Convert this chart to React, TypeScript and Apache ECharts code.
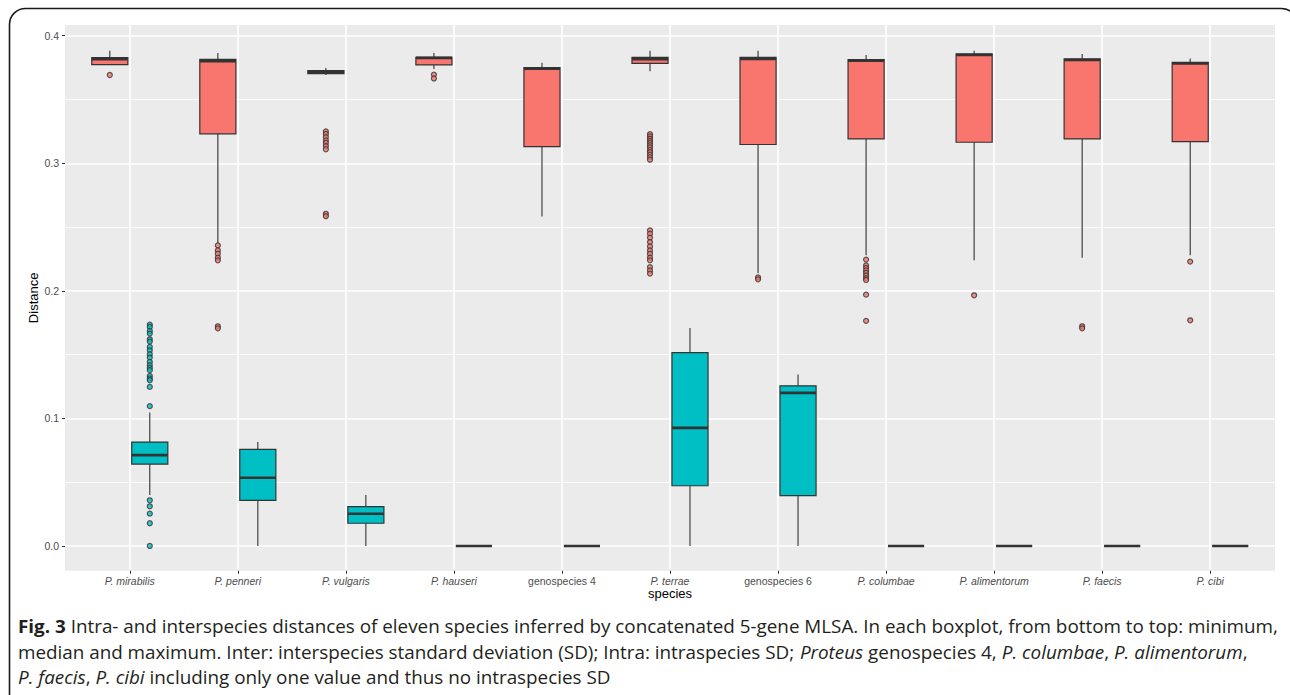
import React, { useEffect, useRef } from "react";
import * as echarts from "echarts";

const species = [
  "P. mirabilis",
  "P. penneri",
  "P. vulgaris",
  "P. hauseri",
  "genospecies 4",
  "P. terrae",
  "genospecies 6",
  "P. columbae",
  "P. alimentorum",
  "P. faecis",
  "P. cibi",
];

const yTicks = [0, 0.1, 0.2, 0.3, 0.4];

// Inter (interspecies) boxplots
const interMin = [0.377, 0.2375, 0.3692, 0.374, 0.2583, 0.3721, 0.2137, 0.2278, 0.2239, 0.226, 0.2278];
const interQ1 = [0.3773, 0.3231, 0.3703, 0.3771, 0.3131, 0.3783, 0.3147, 0.3191, 0.3165, 0.3191, 0.317];
const interMedian = [0.3816, 0.38, 0.3716, 0.3826, 0.3742, 0.3815, 0.3818, 0.3805, 0.3849, 0.381, 0.3782];
const interQ3 = [0.3828, 0.3815, 0.3726, 0.3831, 0.375, 0.383, 0.383, 0.3812, 0.3857, 0.3818, 0.3791];
const interMax = [0.3883, 0.3865, 0.3747, 0.3865, 0.3789, 0.3883, 0.3883, 0.3849, 0.3883, 0.3857, 0.3822];

// Intra (intraspecies) boxplots
const intraMin = [0.0399, 0, 0, 0, 0, 0, 0, 0, 0, 0, 0];
const intraQ1 = [0.0642, 0.0358, 0.0178, 0, 0, 0.0472, 0.0394, 0, 0, 0, 0];
const intraMedian = [0.0712, 0.0535, 0.0253, 0, 0, 0.0926, 0.12, 0, 0, 0, 0];
const intraQ3 = [0.0814, 0.0757, 0.0308, 0, 0, 0.1516, 0.1255, 0, 0, 0, 0];
const intraMax = [0.1046, 0.0814, 0.0399, 0, 0, 0.1709, 0.1344, 0, 0, 0, 0];

const interOutliers: number[][] = [
  [0.3692],
  [0.2356, 0.2317, 0.2291, 0.226, 0.2239, 0.1722, 0.1706],
  [0.325, 0.323, 0.3205, 0.318, 0.316, 0.3135, 0.311, 0.2604, 0.2585],
  [0.3695, 0.3665],
  [],
  [
    0.3228, 0.321, 0.3192, 0.3175, 0.316, 0.3142, 0.3125, 0.3105, 0.3088, 0.3068, 0.3048, 0.3028,
    0.2474, 0.2448, 0.2417, 0.2382, 0.2348, 0.2317, 0.2291, 0.226, 0.2239, 0.2186, 0.216, 0.2135,
  ],
  [0.2105, 0.209],
  [0.2245, 0.22, 0.218, 0.216, 0.214, 0.212, 0.21, 0.2085, 0.197, 0.1765],
  [0.1965],
  [0.1722, 0.1706],
  [0.2229, 0.1769],
];

const intraOutliers: number[][] = [
  [
    0.1735, 0.1717, 0.1685, 0.1665, 0.162, 0.1602, 0.156, 0.1534, 0.1503, 0.1477, 0.1443, 0.1417,
    0.1396, 0.1378, 0.1333, 0.1313, 0.1299, 0.1247, 0.1096, 0.0358, 0.0311, 0.0253, 0.0178, 0.0,
  ],
  [], [], [], [], [], [], [], [], [], [],
];

const INTER_COLOR = "#F8766D";
const INTRA_COLOR = "#00BFC4";
const DARK = "#333333";
const FONT = "'Liberation Sans', Arial, Helvetica, sans-serif";
const CAPTION_FONT = "'Open Sans', 'Noto Sans', sans-serif";

type Seg = { t: string; b?: boolean; i?: boolean };
const captionLines: Seg[][] = [
  [
    { t: "Fig. 3", b: true },
    { t: " Intra- and interspecies distances of eleven species inferred by concatenated 5-gene MLSA. In each boxplot, from bottom to top: minimum," },
  ],
  [
    { t: "median and maximum. Inter: interspecies standard deviation (SD); Intra: intraspecies SD; " },
    { t: "Proteus", i: true },
    { t: " genospecies 4, " },
    { t: "P. columbae", i: true },
    { t: ", " },
    { t: "P. alimentorum", i: true },
    { t: "," },
  ],
  [
    { t: "P. faecis", i: true },
    { t: ", " },
    { t: "P. cibi", i: true },
    { t: " including only one value and thus no intraspecies SD" },
  ],
];

const CAPTION_SIZE = 18.5;

function measureLine(segs: Seg[]): number {
  const ctx = document.createElement("canvas").getContext("2d");
  if (!ctx) return 1;
  let w = 0;
  for (const s of segs) {
    ctx.font = `${s.i ? "italic " : ""}${s.b ? "bold " : ""}${CAPTION_SIZE}px ${CAPTION_FONT}`;
    w += ctx.measureText(s.t).width;
  }
  return w;
}

function richText(segs: Seg[]): string {
  return segs.map((s) => `{${s.b ? "b" : s.i ? "i" : "n"}|${s.t}}`).join("");
}

const boxRender = (fill: string, shift: number) => (params: any, api: any) => {
  const i = api.value(0);
  const band = api.size([1, 0])[0];
  const cx = api.coord([i, 0])[0] + shift * band;
  const half = 0.167 * band;
  const y = (k: number) => api.coord([i, api.value(k)])[1];
  const yMin = y(1);
  const yQ1 = y(2);
  const yMed = y(3);
  const yQ3 = y(4);
  const yMax = y(5);
  return {
    type: "group",
    children: [
      { type: "line", shape: { x1: cx, y1: yQ3, x2: cx, y2: yMax }, style: { stroke: DARK, lineWidth: 1.1 } },
      { type: "line", shape: { x1: cx, y1: yQ1, x2: cx, y2: yMin }, style: { stroke: DARK, lineWidth: 1.1 } },
      {
        type: "rect",
        shape: { x: cx - half, y: yQ3, width: 2 * half, height: yQ1 - yQ3 },
        style: { fill, stroke: DARK, lineWidth: 1.2 },
      },
      {
        type: "line",
        shape: { x1: cx - half, y1: yMed, x2: cx + half, y2: yMed },
        style: { stroke: DARK, lineWidth: 2.6 },
      },
    ],
  };
};

export default function App() {
  const ref = useRef<HTMLDivElement>(null);

  useEffect(() => {
    if (!ref.current) return;
    const chart = echarts.init(ref.current, null, { renderer: "svg" });

    const Y_MIN = -0.0194;
    const Y_MAX = 0.4084;
    const gridTop = 25;
    const gridHeight = 545.7;

    const interBoxes = species.map((_, i) => [i, interMin[i], interQ1[i], interMedian[i], interQ3[i], interMax[i]]);
    const intraBoxes = species.map((_, i) => [i, intraMin[i], intraQ1[i], intraMedian[i], intraQ3[i], intraMax[i]]);
    const interPts = interOutliers.flatMap((arr, i) => arr.map((v) => [i, v]));
    const intraPts = intraOutliers.flatMap((arr, i) => arr.map((v) => [i, v]));

    const line1W = measureLine(captionLines[0]);
    const capScale = 1261 / line1W;
    const capStyles = {
      n: { fill: "#231F20", fontSize: CAPTION_SIZE, fontFamily: CAPTION_FONT },
      b: { fill: "#231F20", fontSize: CAPTION_SIZE, fontFamily: CAPTION_FONT, fontWeight: "bold" },
      i: { fill: "#231F20", fontSize: CAPTION_SIZE, fontFamily: CAPTION_FONT, fontStyle: "italic" },
    };
    const capY = [626, 651.5, 677];

    chart.setOption({
      animation: false,
      textStyle: { fontFamily: FONT },
      grid: [
        {
          left: 65,
          width: 1210,
          top: gridTop,
          height: gridHeight,
          show: true,
          backgroundColor: "#EBEBEB",
          borderWidth: 0,
          z: -1,
        },
        {
          left: 129.8,
          width: 1080.4,
          top: gridTop,
          height: gridHeight,
          show: false,
        },
      ],
      xAxis: [
        { gridIndex: 0, type: "value", min: 0, max: 1, show: false },
        {
          gridIndex: 1,
          type: "category",
          data: species,
          boundaryGap: false,
          position: "bottom",
          axisLine: { show: true, onZero: false, lineStyle: { color: "rgba(0,0,0,0)", width: 1 } },
          axisTick: { show: true, interval: 0, length: 3, lineStyle: { color: DARK, width: 1 } },
          axisLabel: {
            interval: 0,
            margin: 5,
            color: "#4D4D4D",
            fontSize: 10.5,
            fontFamily: FONT,
            formatter: (v: string) => (v.startsWith("P.") ? `{i|${v}}` : `{n|${v}}`),
            rich: {
              i: { fontStyle: "italic", color: "#4D4D4D", fontSize: 10.5, fontFamily: FONT },
              n: { color: "#4D4D4D", fontSize: 10.5, fontFamily: FONT },
            },
          },
          splitLine: { show: true, interval: 0, lineStyle: { color: "#FFFFFF", width: 1.6 } },
          name: "species",
          nameLocation: "middle",
          nameGap: 16,
          nameMoveOverlap: false,
          nameTextStyle: { color: "#000000", fontSize: 13, fontFamily: FONT },
        },
      ],
      yAxis: [
        {
          gridIndex: 0,
          type: "value",
          min: Y_MIN,
          max: Y_MAX,
          splitNumber: 4,
          axisLine: { show: true, onZero: false, lineStyle: { color: "rgba(0,0,0,0)", width: 1 } },
          axisTick: { show: true, length: 3, lineStyle: { color: DARK, width: 1 }, customValues: yTicks },
          axisLabel: {
            customValues: yTicks,
            margin: 6,
            color: "#4D4D4D",
            fontSize: 10.5,
            fontFamily: FONT,
            formatter: (v: number) =>
              Math.abs(v * 10 - Math.round(v * 10)) < 1e-6 ? v.toFixed(1) : "",
          },
          splitLine: { show: true, lineStyle: { color: "#FFFFFF", width: 1.6 } },
          minorTick: { show: false, splitNumber: 2 },
          minorSplitLine: { show: true, lineStyle: { color: "#FFFFFF", width: 0.8 } },
          name: "Distance",
          nameLocation: "middle",
          nameGap: 25,
          nameRotate: 90,
          nameMoveOverlap: false,
          nameTextStyle: { color: "#000000", fontSize: 13, fontFamily: FONT },
        },
        { gridIndex: 1, type: "value", min: Y_MIN, max: Y_MAX, show: false },
      ],
      series: [
        {
          name: "Inter",
          type: "custom",
          xAxisIndex: 1,
          yAxisIndex: 1,
          clip: false,
          z: 2,
          encode: { x: 0, y: [1, 2, 3, 4, 5] },
          renderItem: boxRender(INTER_COLOR, -0.185),
          data: interBoxes,
        },
        {
          name: "Intra",
          type: "custom",
          xAxisIndex: 1,
          yAxisIndex: 1,
          clip: false,
          z: 2,
          encode: { x: 0, y: [1, 2, 3, 4, 5] },
          renderItem: boxRender(INTRA_COLOR, 0.185),
          data: intraBoxes,
        },
        {
          name: "Inter outliers",
          type: "scatter",
          xAxisIndex: 1,
          yAxisIndex: 1,
          clip: false,
          z: 3,
          symbol: "circle",
          symbolSize: 5,
          symbolOffset: [-20, 0],
          itemStyle: { color: INTER_COLOR, borderColor: DARK, borderWidth: 1.2 },
          data: interPts,
        },
        {
          name: "Intra outliers",
          type: "scatter",
          xAxisIndex: 1,
          yAxisIndex: 1,
          clip: false,
          z: 3,
          symbol: "circle",
          symbolSize: 5,
          symbolOffset: [20, 0],
          itemStyle: { color: INTRA_COLOR, borderColor: DARK, borderWidth: 1.2 },
          data: intraPts,
        },
      ],
      graphic: [
        {
          type: "rect",
          shape: { x: 9.5, y: 8.5, width: 1288, height: 720, r: 16 },
          style: { fill: "none", stroke: "#1A1A1A", lineWidth: 1.6 },
          silent: true,
        },
        ...captionLines.map((segs, k) => ({
          type: "text",
          x: 18,
          y: capY[k],
          scaleX: capScale,
          style: {
            text: richText(segs),
            rich: capStyles,
            fill: "#231F20",
            fontSize: CAPTION_SIZE,
            fontFamily: CAPTION_FONT,
            verticalAlign: "middle",
            align: "left",
          },
          silent: true,
        })),
      ],
    });

    return () => chart.dispose();
  }, []);

  return (
    <div
      ref={ref}
      style={{ position: "fixed", left: 0, top: 0, width: 1290, height: 695, background: "#FFFFFF" }}
    />
  );
}
